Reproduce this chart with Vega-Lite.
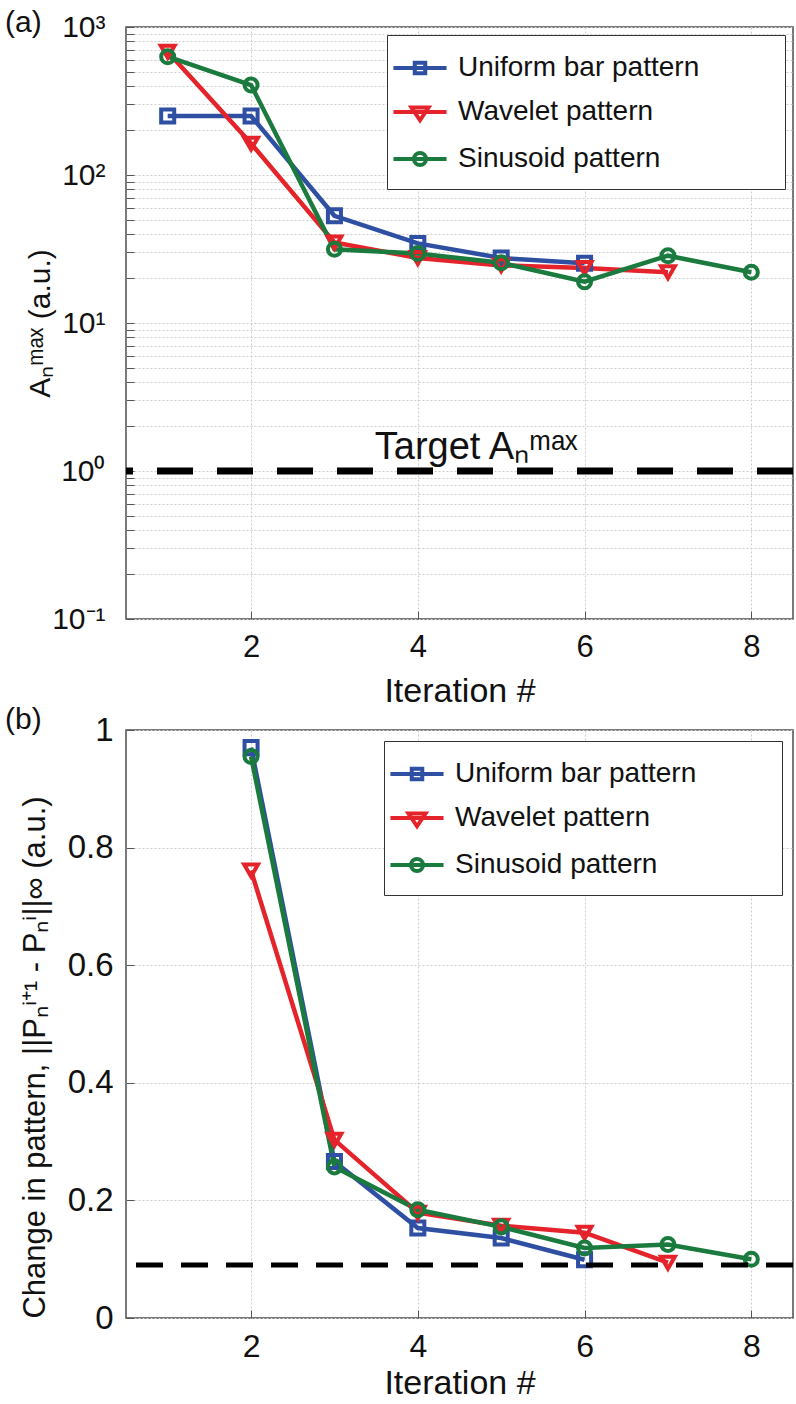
{
  "$schema": "https://vega.github.io/schema/vega-lite/v6.json",
  "background": "white",
  "padding": {"left": 4, "top": 7, "right": 3, "bottom": 0},
  "bounds": "flush",
  "spacing": 111,
  "resolve": {
    "scale": {"x": "independent", "y": "independent", "color": "independent", "shape": "independent"},
    "legend": {"color": "independent", "shape": "independent"}
  },
  "config": {
    "font": "Liberation Sans",
    "view": {"stroke": "#4d4d4d", "strokeWidth": 1.5},
    "axis": {
      "domain": false,
      "tickSize": -8,
      "tickColor": "#555555",
      "tickWidth": 1,
      "gridColor": "#cccccc",
      "gridDash": [2, 2],
      "gridWidth": 1,
      "labelColor": "#111111",
      "titleColor": "#111111",
      "labelFontSize": 30,
      "titleFontSize": 30,
      "titleFontWeight": "normal",
      "labelFont": "Liberation Sans",
      "titleFont": "Liberation Sans",
      "labelFlush": false,
      "labelOverlap": false
    },
    "axisX": {
      "labelBaseline": "middle",
      "labelPadding": 36,
      "titleBaseline": "middle",
      "format": "~g"
    },
    "axisY": {
      "labelPadding": 29,
      "titleBaseline": "middle"
    },
    "legend": {
      "orient": "top-right",
      "offset": 8,
      "padding": 16,
      "strokeColor": "#333333",
      "fillColor": "white",
      "labelFontSize": 28,
      "labelFont": "Liberation Sans",
      "labelColor": "#111111",
      "labelLimit": 600,
      "symbolSize": 900,
      "symbolStrokeWidth": 4,
      "symbolOpacity": 1,
      "symbolFillColor": "white",
      "rowPadding": 13,
      "labelOffset": 21,
      "titleOrient": "right",
      "titlePadding": 70,
      "titleFontSize": 28
    },
    "title": {"fontWeight": "normal", "color": "#111111"}
  },
  "datasets": {
    "a": [
      {"series": "Uniform bar pattern", "iteration": 1, "value": 250},
      {"series": "Uniform bar pattern", "iteration": 2, "value": 250},
      {"series": "Uniform bar pattern", "iteration": 3, "value": 53},
      {"series": "Uniform bar pattern", "iteration": 4, "value": 34.5},
      {"series": "Uniform bar pattern", "iteration": 5, "value": 27.5},
      {"series": "Uniform bar pattern", "iteration": 6, "value": 25.3},
      {"series": "Wavelet pattern", "iteration": 1, "value": 680},
      {"series": "Wavelet pattern", "iteration": 2, "value": 163},
      {"series": "Wavelet pattern", "iteration": 3, "value": 35},
      {"series": "Wavelet pattern", "iteration": 4, "value": 27.5},
      {"series": "Wavelet pattern", "iteration": 5, "value": 24.5},
      {"series": "Wavelet pattern", "iteration": 6, "value": 23.5},
      {"series": "Wavelet pattern", "iteration": 7, "value": 22},
      {"series": "Sinusoid pattern", "iteration": 1, "value": 630},
      {"series": "Sinusoid pattern", "iteration": 2, "value": 405},
      {"series": "Sinusoid pattern", "iteration": 3, "value": 31.5},
      {"series": "Sinusoid pattern", "iteration": 4, "value": 29.5},
      {"series": "Sinusoid pattern", "iteration": 5, "value": 25.5},
      {"series": "Sinusoid pattern", "iteration": 6, "value": 19},
      {"series": "Sinusoid pattern", "iteration": 7, "value": 28.5},
      {"series": "Sinusoid pattern", "iteration": 8, "value": 22}
    ],
    "b": [
      {"series": "Uniform bar pattern", "iteration": 2, "value": 0.970},
      {"series": "Uniform bar pattern", "iteration": 3, "value": 0.266},
      {"series": "Uniform bar pattern", "iteration": 4, "value": 0.153},
      {"series": "Uniform bar pattern", "iteration": 5, "value": 0.136},
      {"series": "Uniform bar pattern", "iteration": 6, "value": 0.099},
      {"series": "Wavelet pattern", "iteration": 2, "value": 0.761},
      {"series": "Wavelet pattern", "iteration": 3, "value": 0.303},
      {"series": "Wavelet pattern", "iteration": 4, "value": 0.179},
      {"series": "Wavelet pattern", "iteration": 5, "value": 0.157},
      {"series": "Wavelet pattern", "iteration": 6, "value": 0.145},
      {"series": "Wavelet pattern", "iteration": 7, "value": 0.094},
      {"series": "Sinusoid pattern", "iteration": 2, "value": 0.955},
      {"series": "Sinusoid pattern", "iteration": 3, "value": 0.257},
      {"series": "Sinusoid pattern", "iteration": 4, "value": 0.184},
      {"series": "Sinusoid pattern", "iteration": 5, "value": 0.155},
      {"series": "Sinusoid pattern", "iteration": 6, "value": 0.119},
      {"series": "Sinusoid pattern", "iteration": 7, "value": 0.125},
      {"series": "Sinusoid pattern", "iteration": 8, "value": 0.100}
    ],
    "targetA": [{"target": 1}],
    "targetB": [{"target": 0.09}],
    "note": [{"iteration": 4.7, "value": 1.2, "label": "Target Aₙᵐᵃˣ"}]
  },
  "vconcat": [
    {
      "width": 667,
      "height": 592,
      "title": {"text": "(a)", "anchor": "start", "frame": "group", "dx": -121, "dy": 43, "offset": -7, "baseline": "alphabetic", "fontSize": 30, "font": "Liberation Sans"},
      "layer": [
        {
          "data": {"name": "a"},
          "mark": {"type": "line", "strokeWidth": 4.5},
          "encoding": {
            "x": {"field": "iteration", "type": "quantitative", "scale": {"domain": [0.5, 8.5], "nice": false, "zero": false},
              "axis": {"values": [2, 4, 6, 8], "title": "Iteration #", "grid": true, "labelFontSize": 31, "titleFontSize": 34, "titleY": 72}},
            "y": {"field": "value", "type": "quantitative", "scale": {"type": "log", "domain": [0.1, 1000], "nice": false},
              "axis": {"values": [0.1, 0.2, 0.3, 0.4, 0.5, 0.6, 0.7, 0.8, 0.9, 1, 2, 3, 4, 5, 6, 7, 8, 9, 10, 20, 30, 40, 50, 60, 70, 80, 90, 100, 200, 300, 400, 500, 600, 700, 800, 900, 1000],
                "labelExpr": "datum.value === 1000 ? '10³' : datum.value === 100 ? '10²' : datum.value === 10 ? '10¹' : datum.value === 1 ? '10⁰' : datum.value === 0.1 ? '10⁻¹' : ''",
                "title": "Aₙᵐᵃˣ (a.u.)", "titleX": -86, "grid": true}},
            "color": {"field": "series", "type": "nominal",
              "scale": {"domain": ["Uniform bar pattern", "Wavelet pattern", "Sinusoid pattern"], "range": ["#2e4fa2", "#e5232a", "#1b7a3e"]},
              "legend": {"title": "\u00a0"}}
          }
        },
        {
          "data": {"name": "a"},
          "transform": [{"filter": "datum.series === 'Uniform bar pattern'"}],
          "mark": {"type": "point", "shape": "square", "filled": false, "strokeWidth": 4, "size": 170, "opacity": 1},
          "encoding": {
            "x": {"field": "iteration", "type": "quantitative"},
            "y": {"field": "value", "type": "quantitative"},
            "color": {"field": "series", "type": "nominal"}
          }
        },
        {
          "data": {"name": "a"},
          "transform": [{"filter": "datum.series === 'Wavelet pattern'"}],
          "mark": {"type": "point", "shape": "triangle-down", "filled": false, "strokeWidth": 4, "size": 190, "opacity": 1},
          "encoding": {
            "x": {"field": "iteration", "type": "quantitative"},
            "y": {"field": "value", "type": "quantitative"},
            "color": {"field": "series", "type": "nominal"}
          }
        },
        {
          "data": {"name": "a"},
          "transform": [{"filter": "datum.series === 'Sinusoid pattern'"}],
          "mark": {"type": "point", "shape": "circle", "filled": false, "strokeWidth": 4, "size": 170, "opacity": 1},
          "encoding": {
            "x": {"field": "iteration", "type": "quantitative"},
            "y": {"field": "value", "type": "quantitative"},
            "color": {"field": "series", "type": "nominal"}
          }
        },
        {
          "data": {"name": "a"},
          "transform": [{"filter": "false"}],
          "mark": {"type": "point", "filled": false, "strokeWidth": 4},
          "encoding": {
            "x": {"field": "iteration", "type": "quantitative"},
            "y": {"field": "value", "type": "quantitative"},
            "color": {"field": "series", "type": "nominal"},
            "shape": {"field": "series", "type": "nominal",
              "scale": {"domain": ["Uniform bar pattern", "Wavelet pattern", "Sinusoid pattern"],
                "range": ["M-1.77,0H1.77M-0.35,-0.35H0.35V0.35H-0.35Z", "M-1.77,0H1.77M-0.57,-0.3L0.57,-0.3L0,0.55Z", "M-1.77,0H1.77M-0.4,0A0.4,0.4,0,1,1,0.4,0A0.4,0.4,0,1,1,-0.4,0Z"]},
              "legend": {"title": "\u00a0"}}
          }
        },
        {
          "data": {"name": "targetA"},
          "mark": {"type": "rule", "color": "#000000", "strokeWidth": 7, "strokeDash": [36, 24]},
          "encoding": {"y": {"field": "target", "type": "quantitative"}}
        },
        {
          "data": {"name": "note"},
          "mark": {"type": "text", "fontSize": 38, "font": "Liberation Sans", "align": "center", "baseline": "alphabetic", "color": "#111111"},
          "encoding": {
            "x": {"field": "iteration", "type": "quantitative"},
            "y": {"field": "value", "type": "quantitative"},
            "text": {"field": "label"}
          }
        }
      ]
    },
    {
      "width": 667,
      "height": 588,
      "title": {"text": "(b)", "anchor": "start", "frame": "group", "dx": -121, "dy": 54, "offset": 9, "baseline": "alphabetic", "fontSize": 30, "font": "Liberation Sans"},
      "layer": [
        {
          "data": {"name": "b"},
          "mark": {"type": "line", "strokeWidth": 4.5},
          "encoding": {
            "x": {"field": "iteration", "type": "quantitative", "scale": {"domain": [0.5, 8.5], "nice": false, "zero": false},
              "axis": {"values": [2, 4, 6, 8], "title": "Iteration #", "grid": true, "labelFontSize": 32, "titleFontSize": 34, "titleY": 65}},
            "y": {"field": "value", "type": "quantitative", "scale": {"domain": [0, 1], "nice": false},
              "axis": {"values": [0, 0.2, 0.4, 0.6, 0.8, 1], "format": "~g", "labelFontSize": 33, "labelPadding": 21, "titleFontSize": 31,
                "title": "Change in pattern, ||Pₙⁱ⁺¹ - Pₙⁱ||∞ (a.u.)", "titleX": -91, "titleY": 327, "grid": true}},
            "color": {"field": "series", "type": "nominal",
              "scale": {"domain": ["Uniform bar pattern", "Wavelet pattern", "Sinusoid pattern"], "range": ["#2e4fa2", "#e5232a", "#1b7a3e"]},
              "legend": {"title": "\u00a0", "offset": 11}}
          }
        },
        {
          "data": {"name": "b"},
          "transform": [{"filter": "datum.series === 'Uniform bar pattern'"}],
          "mark": {"type": "point", "shape": "square", "filled": false, "strokeWidth": 4, "size": 170, "opacity": 1},
          "encoding": {
            "x": {"field": "iteration", "type": "quantitative"},
            "y": {"field": "value", "type": "quantitative"},
            "color": {"field": "series", "type": "nominal"}
          }
        },
        {
          "data": {"name": "b"},
          "transform": [{"filter": "datum.series === 'Wavelet pattern'"}],
          "mark": {"type": "point", "shape": "triangle-down", "filled": false, "strokeWidth": 4, "size": 190, "opacity": 1},
          "encoding": {
            "x": {"field": "iteration", "type": "quantitative"},
            "y": {"field": "value", "type": "quantitative"},
            "color": {"field": "series", "type": "nominal"}
          }
        },
        {
          "data": {"name": "b"},
          "transform": [{"filter": "datum.series === 'Sinusoid pattern'"}],
          "mark": {"type": "point", "shape": "circle", "filled": false, "strokeWidth": 4, "size": 170, "opacity": 1},
          "encoding": {
            "x": {"field": "iteration", "type": "quantitative"},
            "y": {"field": "value", "type": "quantitative"},
            "color": {"field": "series", "type": "nominal"}
          }
        },
        {
          "data": {"name": "b"},
          "transform": [{"filter": "false"}],
          "mark": {"type": "point", "filled": false, "strokeWidth": 4},
          "encoding": {
            "x": {"field": "iteration", "type": "quantitative"},
            "y": {"field": "value", "type": "quantitative"},
            "color": {"field": "series", "type": "nominal"},
            "shape": {"field": "series", "type": "nominal",
              "scale": {"domain": ["Uniform bar pattern", "Wavelet pattern", "Sinusoid pattern"],
                "range": ["M-1.77,0H1.77M-0.35,-0.35H0.35V0.35H-0.35Z", "M-1.77,0H1.77M-0.57,-0.3L0.57,-0.3L0,0.55Z", "M-1.77,0H1.77M-0.4,0A0.4,0.4,0,1,1,0.4,0A0.4,0.4,0,1,1,-0.4,0Z"]},
              "legend": {"title": "\u00a0", "offset": 11}}
          }
        },
        {
          "data": {"name": "targetB"},
          "mark": {"type": "rule", "color": "#000000", "strokeWidth": 5, "strokeDash": [27, 18]},
          "encoding": {"y": {"field": "target", "type": "quantitative"}}
        }
      ]
    }
  ]
}
